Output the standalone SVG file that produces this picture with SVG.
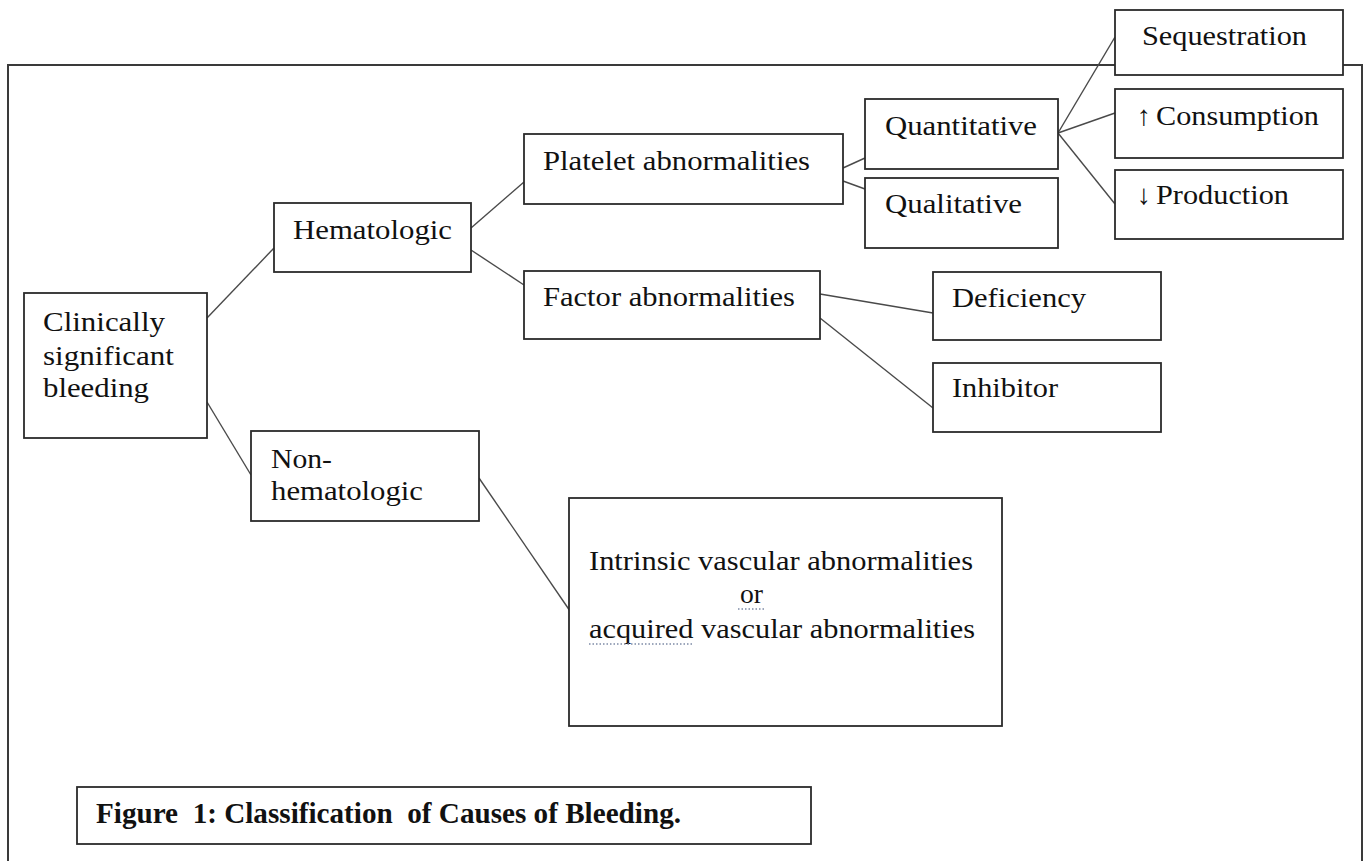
<svg xmlns="http://www.w3.org/2000/svg" width="1369" height="861" viewBox="0 0 1369 861">
<style>
.box{fill:#fff;stroke:#2b2b2b;stroke-width:1.8}
.t{font-family:"Liberation Serif","Times New Roman",serif;font-size:28px;fill:#111}
.cap{font-family:"Liberation Serif","Times New Roman",serif;font-size:29px;font-weight:bold;fill:#111}
.c{stroke:#4a4a4a;stroke-width:1.4;fill:none}
.dot{stroke:#7d8aa6;stroke-width:1.3;stroke-dasharray:1.5 2;fill:none}
</style>
<rect width="1369" height="861" fill="#fff"/>
<path id="frame" d="M8,870 V65 H1362 V870" fill="none" stroke="#3a3a3a" stroke-width="2"/>
<g id="connectors">
<line class="c" x1="207" y1="318" x2="274" y2="248"/>
<line class="c" x1="207" y1="402" x2="251" y2="475"/>
<line class="c" x1="471" y1="228" x2="524" y2="182"/>
<line class="c" x1="471" y1="250" x2="524" y2="285"/>
<line class="c" x1="843" y1="168" x2="865" y2="158"/>
<line class="c" x1="843" y1="181" x2="865" y2="189"/>
<line class="c" x1="1058" y1="133" x2="1115" y2="37"/>
<line class="c" x1="1058" y1="133" x2="1115" y2="113"/>
<line class="c" x1="1058" y1="133" x2="1115" y2="204"/>
<line class="c" x1="820" y1="294" x2="933" y2="313"/>
<line class="c" x1="820" y1="318" x2="933" y2="408"/>
<line class="c" x1="479" y1="478" x2="570" y2="611"/>
</g>
<g id="n-clinical">
<rect class="box" x="24" y="293" width="183" height="145"/>
<text class="t" x="43" y="331" textLength="122" lengthAdjust="spacingAndGlyphs">Clinically</text>
<text class="t" x="43" y="365" textLength="131" lengthAdjust="spacingAndGlyphs">significant</text>
<text class="t" x="43" y="397" textLength="106" lengthAdjust="spacingAndGlyphs">bleeding</text>
</g>
<g id="n-hematologic">
<rect class="box" x="274" y="203" width="197" height="69"/>
<text class="t" x="293" y="239" textLength="159" lengthAdjust="spacingAndGlyphs">Hematologic</text>
</g>
<g id="n-nonhem">
<rect class="box" x="251" y="431" width="228" height="90"/>
<text class="t" x="271" y="468" textLength="61" lengthAdjust="spacingAndGlyphs">Non-</text>
<text class="t" x="271" y="500" textLength="152" lengthAdjust="spacingAndGlyphs">hematologic</text>
</g>
<g id="n-platelet">
<rect class="box" x="524" y="134" width="319" height="70"/>
<text class="t" x="543" y="170" textLength="267" lengthAdjust="spacingAndGlyphs">Platelet abnormalities</text>
</g>
<g id="n-factor">
<rect class="box" x="524" y="271" width="296" height="68"/>
<text class="t" x="543" y="306" textLength="252" lengthAdjust="spacingAndGlyphs">Factor abnormalities</text>
</g>
<g id="n-quantitative">
<rect class="box" x="865" y="99" width="193" height="70"/>
<text class="t" x="885" y="135" textLength="152" lengthAdjust="spacingAndGlyphs">Quantitative</text>
</g>
<g id="n-qualitative">
<rect class="box" x="865" y="178" width="193" height="70"/>
<text class="t" x="885" y="213" textLength="137" lengthAdjust="spacingAndGlyphs">Qualitative</text>
</g>
<g id="n-sequestration">
<rect class="box" x="1115" y="10" width="228" height="65"/>
<text class="t" x="1142" y="45" textLength="165" lengthAdjust="spacingAndGlyphs">Sequestration</text>
</g>
<g id="n-consumption">
<rect class="box" x="1115" y="89" width="228" height="69"/>
<text class="t" x="1137" y="125">↑</text>
<text class="t" x="1156" y="125" textLength="163" lengthAdjust="spacingAndGlyphs">Consumption</text>
</g>
<g id="n-production">
<rect class="box" x="1115" y="170" width="228" height="69"/>
<text class="t" x="1137" y="204">↓</text>
<text class="t" x="1156" y="204" textLength="133" lengthAdjust="spacingAndGlyphs">Production</text>
</g>
<g id="n-deficiency">
<rect class="box" x="933" y="272" width="228" height="68"/>
<text class="t" x="952" y="307" textLength="134" lengthAdjust="spacingAndGlyphs">Deficiency</text>
</g>
<g id="n-inhibitor">
<rect class="box" x="933" y="363" width="228" height="69"/>
<text class="t" x="952" y="397" textLength="106" lengthAdjust="spacingAndGlyphs">Inhibitor</text>
</g>
<g id="n-vascular">
<rect class="box" x="569" y="498" width="433" height="228"/>
<text class="t" x="589" y="570" textLength="384" lengthAdjust="spacingAndGlyphs">Intrinsic vascular abnormalities</text>
<text class="t" x="740" y="603" textLength="23" lengthAdjust="spacingAndGlyphs">or</text>
<text class="t" x="589" y="638" textLength="386" lengthAdjust="spacingAndGlyphs">acquired vascular abnormalities</text>
<line class="dot" x1="738" y1="609" x2="765" y2="609"/>
<line class="dot" x1="589" y1="644" x2="694" y2="644"/>
</g>
<g id="caption">
<rect class="box" x="77" y="787" width="734" height="57"/>
<text class="cap" x="96" y="823" textLength="585" lengthAdjust="spacingAndGlyphs">Figure&#160; 1: Classification&#160; of Causes of Bleeding.</text>
</g>
</svg>
